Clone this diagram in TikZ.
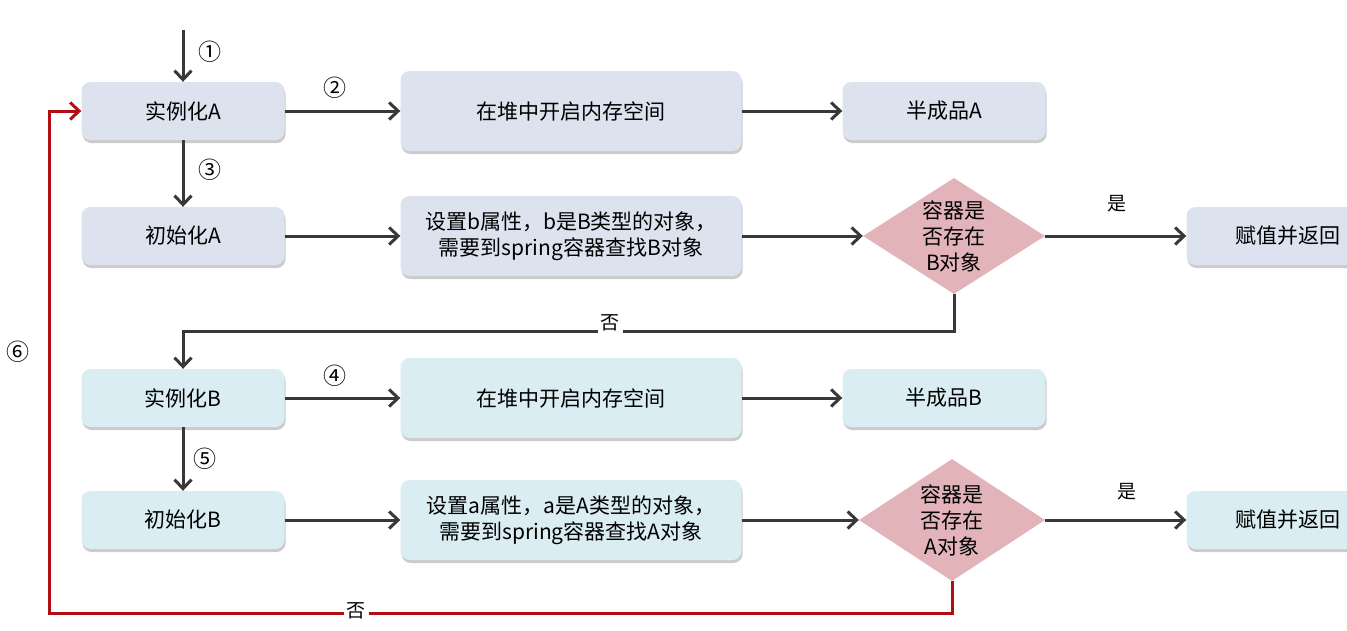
\documentclass[tikz,border=0pt]{standalone}
\usepackage{fontspec}
\newfontfamily\cjk{Noto Sans CJK SC}
\usetikzlibrary{shapes.geometric,shadows,arrows.meta}
\definecolor{fillA}{HTML}{DCE3EF}
\definecolor{fillB}{HTML}{DAEDF2}
\definecolor{diafill}{HTML}{E2B4BA}
\definecolor{linec}{HTML}{383838}
\definecolor{redc}{HTML}{B00E12}
\tikzset{
  box/.style={rounded corners=9pt, draw=none, font=\cjk\fontsize{21}{26}\selectfont, align=center, inner sep=0pt,
    drop shadow={shadow xshift=1pt, shadow yshift=-3pt, fill=black!45, opacity=0.45}},
  smallbox/.style={box, minimum width=203pt, minimum height=58pt},
  bigbox/.style={box, minimum width=341pt, minimum height=80pt},
  dia/.style={diamond, fill=diafill, draw=none, aspect=1.57, minimum width=182pt, minimum height=116pt, inner sep=0pt,
    font=\cjk\fontsize{21}{26}\selectfont, align=center},
  conn/.style={draw=linec, line width=3pt, -{Straight Barb[length=9pt,width=17pt,line width=3pt]}},
  redconn/.style={draw=redc, line width=3pt, -{Straight Barb[length=9pt,width=17pt,line width=3pt]}},
  num/.style={font=\cjk\fontsize{23}{26}\selectfont, inner sep=1pt},
  lab/.style={font=\cjk\fontsize{19}{22}\selectfont, inner sep=3pt},
}
\begin{document}
\begin{tikzpicture}[x=1pt,y=-1pt]
\useasboundingbox[fill=white] (0,0) rectangle (1347,630);
% row 1
\node[smallbox, fill=fillA] (iA) at (183,111) {实例化A};
\node[bigbox, fill=fillA] (hA) at (571,111) {在堆中开启内存空间};
\node[smallbox, fill=fillA] (pA) at (944,111) {半成品A};
% row 2
\node[smallbox, fill=fillA] (cA) at (183,236) {初始化A};
\node[bigbox, fill=fillA] (sA) at (571,236) {设置b属性，b是B类型的对象，\\需要到spring容器查找B对象};
\node[dia] (dB) at (954,236) {容器是\\否存在\\B对象};
\node[smallbox, fill=fillA] (rA) at (1288,236) {赋值并返回};
% row 3
\node[smallbox, fill=fillB] (iB) at (183,398) {实例化B};
\node[bigbox, fill=fillB] (hB) at (571,398) {在堆中开启内存空间};
\node[smallbox, fill=fillB] (pB) at (944,398) {半成品B};
% row 4
\node[smallbox, fill=fillB] (cB) at (183,520) {初始化B};
\node[bigbox, fill=fillB] (sB) at (571,520) {设置a属性，a是A类型的对象，\\需要到spring容器查找A对象};
\node[dia, minimum width=186pt, minimum height=122pt] (dA) at (952,520) {容器是\\否存在\\A对象};
\node[smallbox, fill=fillB] (rB) at (1288,520) {赋值并返回};

% connectors
\coordinate (start) at (183,30);
\draw[conn] (start) -- (iA.north);
\draw[conn] (iA) -- (hA);
\draw[conn] (hA) -- (pA);
\draw[conn] (iA) -- (cA);
\draw[conn] (cA) -- (sA);
\draw[conn] (sA) -- (dB);
\draw[conn] (dB) -- (rA);
\coordinate (k1) at (183,331);
\draw[conn] (dB.south) |- (k1) -- (iB.north);
\draw[conn] (iB) -- (hB);
\draw[conn] (hB) -- (pB);
\draw[conn] (iB) -- (cB);
\draw[conn] (cB) -- (sB);
\draw[conn] (sB) -- (dA);
\draw[conn] (dA) -- (rB);
\coordinate (r1) at (49,613);
\coordinate (r2) at (49,111);
\draw[redconn] (dA.south) |- (r1) -- (r2) -- (iA.west);

% labels
\node[num] (n1) at (210,52) {①};
\node[num] (n2) at (335,88) {②};
\node[num] (n3) at (210,170) {③};
\node[num] (n4) at (335,376) {④};
\node[num] (n5) at (205,459) {⑤};
\node[num] (n6) at (18,352) {⑥};
\node[lab] (y1) at (1117,204) {是};
\node[lab] (y2) at (1127,492) {是};
\node[lab, fill=white] (no1) at (610,323) {否};
\node[lab, fill=white] (no2) at (356,611) {否};
\end{tikzpicture}
\end{document}
